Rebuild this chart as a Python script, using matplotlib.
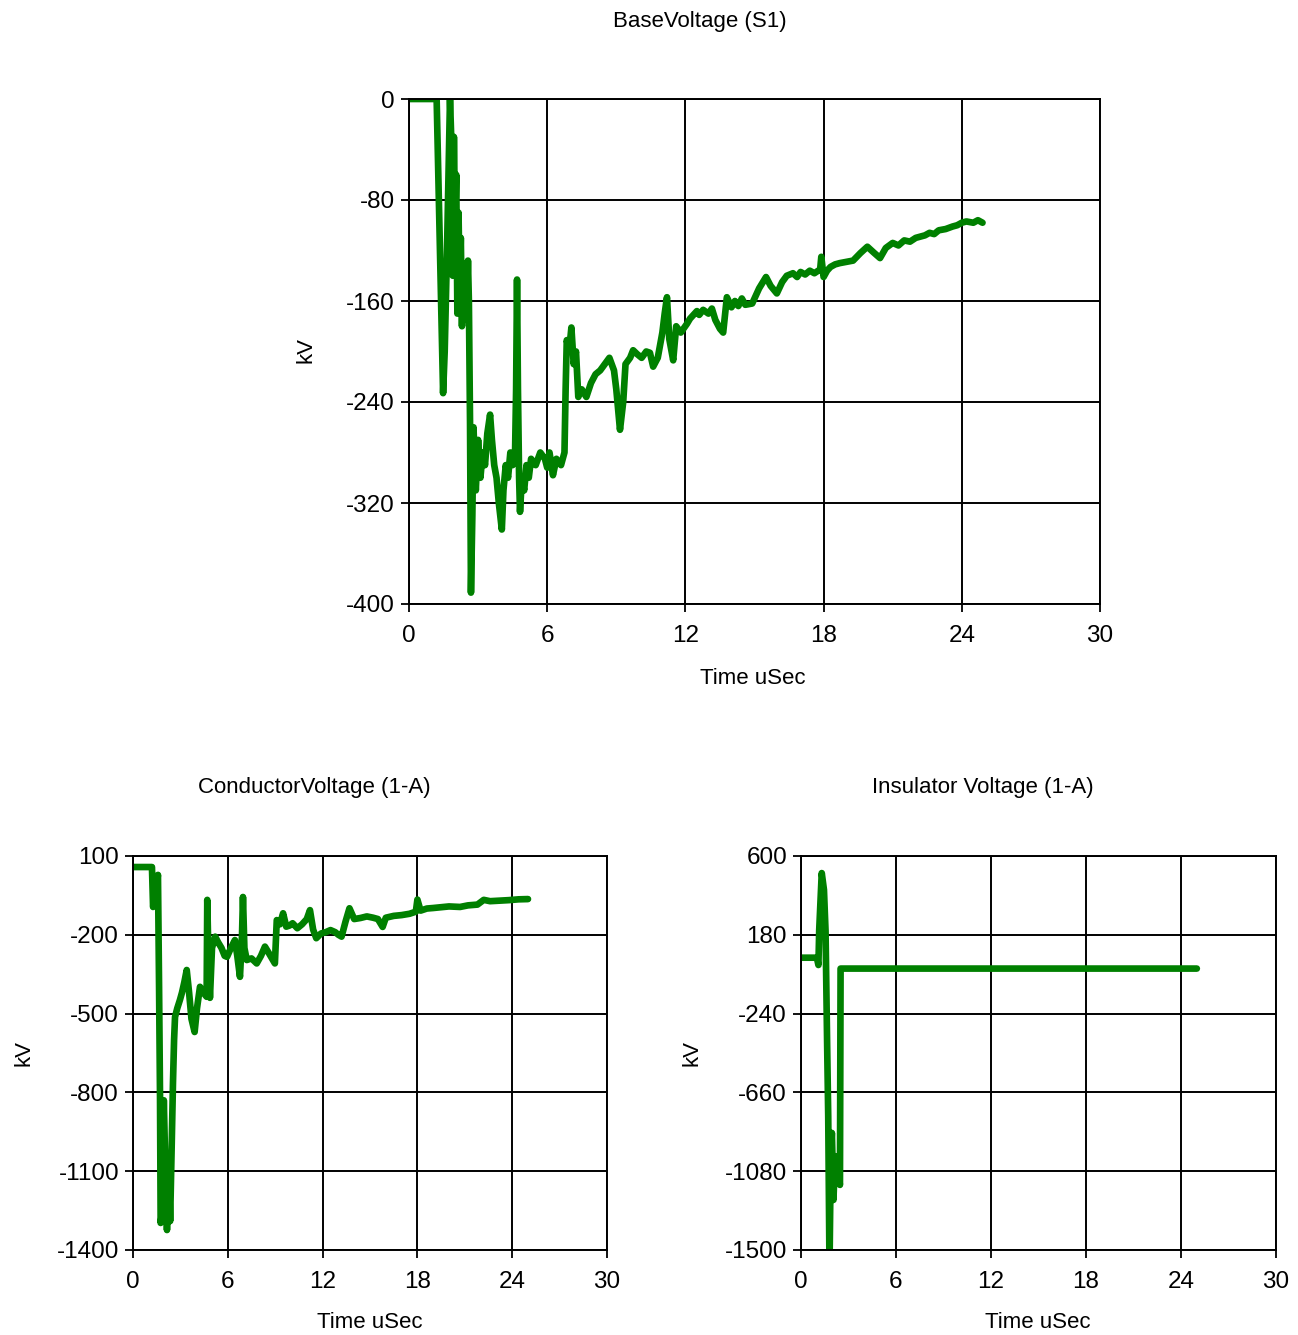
import numpy as np
import matplotlib
matplotlib.use("Agg")
import matplotlib.pyplot as plt

plt.rcParams['font.family'] = ['Liberation Sans', 'DejaVu Sans']
plt.rcParams['axes.unicode_minus'] = False

# BaseVoltage (S1)
base_t = [0, 1.2, 1.48, 1.55, 1.65, 1.78, 1.85, 1.9, 1.95, 2.0, 2.05, 2.1, 2.15, 2.2,
          2.25, 2.3, 2.35, 2.4, 2.45, 2.5, 2.56, 2.6, 2.65, 2.69, 2.75, 2.8, 2.9, 3.0,
          3.1, 3.2, 3.3, 3.4, 3.52, 3.6, 3.7, 3.8, 3.9, 4.03, 4.1, 4.2, 4.3, 4.4, 4.5,
          4.6, 4.65, 4.69, 4.73, 4.78, 4.82, 4.9, 5.0, 5.1, 5.2, 5.3, 5.5, 5.7, 5.9,
          6.0, 6.1, 6.25, 6.4, 6.6, 6.75, 6.8, 6.85, 6.95, 7.05, 7.15, 7.25, 7.35, 7.5,
          7.7, 7.9, 8.1, 8.3, 8.5, 8.7, 8.9, 9.0, 9.16, 9.3, 9.4, 9.6, 9.73, 9.9, 10.1,
          10.3, 10.46, 10.6, 10.8, 11.0, 11.1, 11.2, 11.3, 11.47, 11.6, 11.8, 12.07,
          12.2, 12.3, 12.5, 12.6, 12.77, 13.0, 13.15, 13.3, 13.5, 13.64, 13.8, 14.0,
          14.15, 14.3, 14.45, 14.6, 14.9, 15.2, 15.5, 15.7, 15.97, 16.2, 16.4, 16.67,
          16.85, 17.0, 17.2, 17.4, 17.6, 17.85, 17.9, 18.0, 18.15, 18.3, 18.5, 18.7,
          19.0, 19.28, 19.6, 19.9, 20.2, 20.45, 20.7, 21.0, 21.25, 21.5, 21.75, 22.0,
          22.2, 22.4, 22.6, 22.8, 23.0, 23.3, 23.6, 23.8, 24.0, 24.2, 24.5, 24.7, 24.9]
base_v = [0, 0, -233, -200, -120, 0, -40, -140, -30, -100, -60, -170, -90, -150,
          -110, -180, -130, -170, -140, -175, -128, -160, -257, -391, -330, -260, -310, -270,
          -300, -280, -290, -265, -250, -270, -290, -300, -320, -341, -310, -290, -300, -280, -290,
          -285, -230, -143, -230, -300, -327, -300, -310, -290, -300, -285, -290, -280, -285,
          -292, -280, -298, -285, -290, -280, -230, -191, -200, -181, -210, -200, -236, -230,
          -236, -225, -218, -215, -210, -205, -215, -230, -262, -240, -210, -205, -199, -202, -205,
          -200, -201, -212, -205, -185, -170, -157, -190, -207, -180, -185, -178,
          -174, -172, -168, -171, -167, -170, -166, -175, -182, -185, -157, -165,
          -160, -164, -158, -163, -162, -150, -141, -148, -154, -145, -140, -138,
          -141, -137, -139, -136, -138, -135, -125, -141, -136, -133, -131, -130,
          -129, -128, -122, -117, -122, -126, -118, -114, -116, -112, -113, -110,
          -109, -108, -106, -107, -104, -103, -101, -100, -98, -97, -98, -96, -98]

# ConductorVoltage (1-A)
cond_t = [0, 1.2, 1.27, 1.4, 1.5, 1.58, 1.65, 1.71, 1.75, 1.85, 1.95, 2.05, 2.15, 2.27,
          2.35, 2.45, 2.53, 2.6, 2.66, 2.8, 2.97, 3.1, 3.25, 3.4, 3.55, 3.7, 3.9, 4.05,
          4.24, 4.45, 4.66, 4.7, 4.78, 4.87, 5.0, 5.2, 5.4, 5.6, 5.8, 5.95, 6.2, 6.45,
          6.6, 6.77, 6.9, 6.96, 7.05, 7.2, 7.5, 7.83, 8.1, 8.35, 8.6, 8.98, 9.1, 9.3,
          9.5, 9.7, 9.9, 10.1, 10.4, 10.7, 11.0, 11.2, 11.4, 11.6, 11.9, 12.2, 12.5,
          12.8, 13.0, 13.2, 13.45, 13.7, 14.0, 14.4, 14.8, 15.2, 15.5, 15.8, 16.0, 16.5,
          17.0, 17.5, 17.9, 18.0, 18.2, 18.6, 19.0, 19.5, 20.0, 20.7, 21.2, 21.8, 22.2,
          22.6, 23.2, 23.8, 24.4, 25.0]
cond_v = [58, 58, -94, -60, -10, 28, -400, -817, -1297, -1250, -830, -1100, -1324, -1095,
          -1290, -1000, -764, -600, -513, -480, -448, -420, -380, -334, -420, -520, -570, -480,
          -398, -420, -436, -67, -300, -440, -250, -207, -230, -250, -280, -284, -250, -220,
          -280, -360, -200, -56, -250, -296, -290, -309, -280, -245, -270, -309, -144, -160,
          -118, -169, -165, -156, -175, -160, -140, -106, -180, -213, -195, -190, -182,
          -190, -200, -207, -150, -99, -140, -136, -130, -135, -140, -170, -135, -128,
          -125, -120, -112, -66, -108, -100, -98, -95, -92, -94, -88, -85, -67,
          -72, -70, -68, -65, -64]

# Insulator Voltage (1-A)
ins_t = [0, 1.0, 1.1, 1.15, 1.31, 1.45, 1.55, 1.65, 1.72, 1.8, 1.88, 1.95, 2.05, 2.15,
         2.26, 2.46, 2.5, 25.0]
ins_v = [58, 58, 19, 206, 509, 420, 200, -400, -791, -1600, -1000, -876, -1233, -1000,
         -1057, -1153, 0, 0]

W, H = 1298, 1335
fig = plt.figure(figsize=(W / 100, H / 100), dpi=100)


def px_axes(x0, y0, x1, y1):
    return fig.add_axes([x0 / W, 1 - y1 / H, (x1 - x0) / W, (y1 - y0) / H])


def style(ax, t, v, ylim, yticks, title, title_xy, ylab_xy, xlab_xy):
    ax.plot(t, v, color='#008000', lw=4.8, solid_capstyle='round', solid_joinstyle='round')
    ax.set_xlim(0, 30)
    ax.set_ylim(*ylim)
    ax.set_xticks([0, 6, 12, 18, 24, 30])
    ax.set_yticks(yticks)
    ax.grid(True, color='black', lw=1.4)
    ax.set_axisbelow(True)
    for s in ax.spines.values():
        s.set_color('black')
        s.set_linewidth(1.4)
    ax.tick_params(direction='out', length=6, width=1.3, labelsize=17.5, pad=4)
    ax.tick_params(axis='x', pad=9)
    fig.text(title_xy[0] / W, 1 - title_xy[1] / H, title, ha='center', va='center', fontsize=16)
    fig.text(ylab_xy[0] / W, 1 - ylab_xy[1] / H, 'kV', ha='center', va='center',
             rotation=90, fontsize=16)
    fig.text(xlab_xy[0] / W, 1 - xlab_xy[1] / H, 'Time uSec', ha='center', va='center',
             fontsize=16)


ax1 = px_axes(409, 99, 1100, 604)
style(ax1, base_t, base_v, (-400, 0), [0, -80, -160, -240, -320, -400],
      'BaseVoltage (S1)', (700, 22), (306, 350), (753, 679))

ax2 = px_axes(133, 856, 607, 1250)
style(ax2, cond_t, cond_v, (-1400, 100), [100, -200, -500, -800, -1100, -1400],
      'ConductorVoltage (1-A)', (314, 787), (24, 1053), (370, 1323))

ax3 = px_axes(801, 856, 1276, 1250)
style(ax3, ins_t, ins_v, (-1500, 600), [600, 180, -240, -660, -1080, -1500],
      'Insulator Voltage (1-A)', (983, 787), (692, 1053), (1038, 1323))

fig.savefig('out.png', dpi=100)
